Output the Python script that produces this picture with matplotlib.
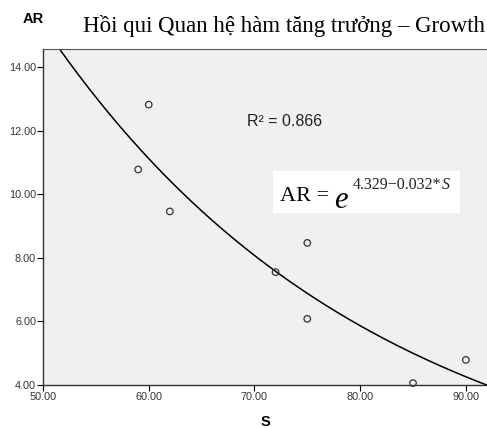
import numpy as np
import matplotlib.pyplot as plt

plt.rcParams['font.family'] = ['Liberation Sans', 'DejaVu Sans']

# observed S / AR pairs
s_obs = [59, 60, 62, 72, 75, 75, 85, 90]
ar_obs = [10.78, 12.82, 9.46, 7.55, 8.47, 6.08, 4.06, 4.79]

# growth model AR = exp(b0 + b1*S)
b0 = 4.329
b1 = -0.032
r2 = 0.866

x_ticks = [50, 60, 70, 80, 90]
y_ticks = [4, 6, 8, 10, 12, 14]

fig = plt.figure(figsize=(4.87, 4.28), dpi=100)
ax = fig.add_axes([0.0883, 0.1005, 0.9117, 0.785])
ax.set_facecolor('#f0f0f0')

s_line = np.linspace(50, 92, 300)
ax.plot(s_line, np.exp(b0 + b1 * s_line), color='black', lw=1.1, zorder=2)
ax.scatter(s_obs, ar_obs, s=22, facecolors='none', edgecolors='#333333',
           linewidths=0.9, zorder=3, clip_on=False)

ax.set_xlim(50, 92)
ax.set_ylim(4, 14.57)
ax.set_xticks(x_ticks)
ax.set_yticks(y_ticks)
ax.set_xticklabels(['{:.2f}'.format(v) for v in x_ticks])
ax.set_yticklabels(['{:.2f}'.format(v) for v in y_ticks])
ax.tick_params(direction='out', length=4, width=0.8, labelsize=7.8,
               labelcolor='#333333', pad=1)
for side in ['left', 'bottom']:
    ax.spines[side].set_linewidth(1.0)
    ax.spines[side].set_color('#333333')
ax.spines['top'].set_color('#555555')
ax.spines['top'].set_linewidth(0.8)
ax.spines['right'].set_visible(False)

fig.text(0.047, 0.956, 'AR', fontsize=10.5, fontweight='bold', ha='left', va='center')
fig.text(0.546, 0.014, 'S', fontsize=10.5, fontweight='bold', ha='center', va='center')
fig.text(0.171, 0.94, 'Hồi qui Quan hệ hàm tăng trưởng – Growth',
         family='Liberation Serif', fontsize=16.5, ha='left', va='center')

ax.text(0.459, 0.784, 'R² = {:.3f}'.format(r2), transform=ax.transAxes,
        fontsize=11.5, color='#222222', ha='left', va='center')

# equation box
ax.add_patch(plt.Rectangle((0.518, 0.512), 0.421, 0.125, transform=ax.transAxes,
                           facecolor='white', edgecolor='none', zorder=4))
ax.text(0.534, 0.548, 'AR =', transform=ax.transAxes, family='Liberation Serif',
        fontsize=16, ha='left', va='baseline', zorder=5)
ax.text(0.655, 0.527, 'e', transform=ax.transAxes, family='Liberation Serif',
        style='italic', fontsize=22, ha='left', va='baseline', zorder=5)
expo = ax.text(0.698, 0.583, '{:.3f}\u2212{:.3f}*'.format(b0, -b1),
               transform=ax.transAxes, family='Liberation Serif', fontsize=11.5,
               color='#222222', ha='left', va='baseline', zorder=5)
ax.annotate('S', xy=(1, 0), xycoords=expo, family='Liberation Serif',
            style='italic', fontsize=11.5, color='#222222',
            ha='left', va='bottom', zorder=5)

fig.savefig('out.png', dpi=100)
